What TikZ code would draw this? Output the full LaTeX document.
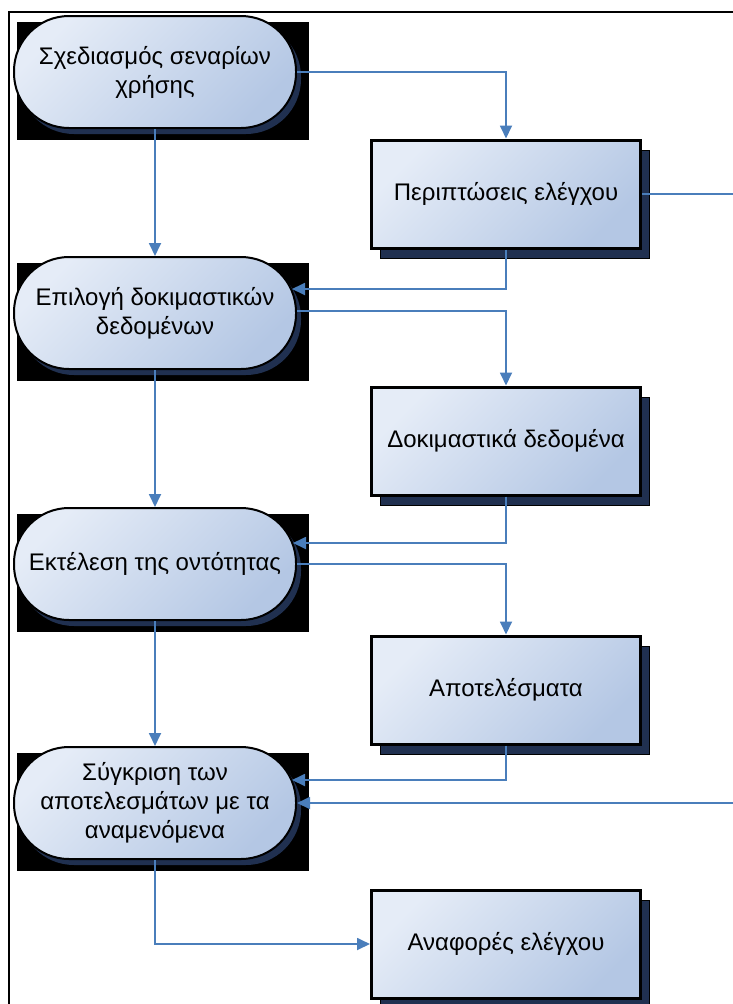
\documentclass[tikz,border=0pt]{standalone}
\usepackage{fontspec}
\setmainfont{Liberation Sans}
\usetikzlibrary{shadows,calc,arrows.meta}
\pgfdeclarelayer{bg}
\pgfsetlayers{bg,main}
\definecolor{lineblue}{RGB}{74,126,187}
\definecolor{fillA}{RGB}{229,236,247}
\definecolor{fillB}{RGB}{180,199,228}
\definecolor{shadowblue}{RGB}{32,48,80}
\begin{document}
\begin{tikzpicture}[x=1pt,y=-1pt,
 every node/.style={font=\fontsize{24}{29}\selectfont, align=center, inner sep=0pt},
 term/.style={draw=black, line width=2pt, rounded corners=55pt,
   minimum width=282pt, minimum height=112pt,
   top color=fillA, bottom color=fillB, shading angle=45,
   drop shadow={shadow xshift=5pt, shadow yshift=-6pt, fill=shadowblue, opacity=1}},
 datbox/.style={draw=black, line width=3pt,
   minimum width=269pt, minimum height=108pt,
   top color=fillA, bottom color=fillB, shading angle=45,
   drop shadow={shadow xshift=9pt, shadow yshift=-10pt, fill=shadowblue, draw=black, line width=1pt, opacity=1}},
 conn/.style={draw=lineblue, line width=1.8pt},
 arr/.style={conn, -{Triangle[length=13pt,width=12pt]}}
]
\useasboundingbox (0,0) rectangle (733,1004);
\draw[line width=1.3pt] (9,1012) -- (9,12) -- (745,12);

\node[term] (T1) at (155,72) {Σχεδιασμός σεναρίων\\χρήσης};
\node[term] (T2) at (155,313) {Επιλογή δοκιμαστικών\\δεδομένων};
\node[term] (T3) at (155,564) {Εκτέλεση της οντότητας};
\node[term] (T4) at (155,803) {Σύγκριση των\\αποτελεσμάτων με τα\\αναμενόμενα};

\node[datbox] (B1) at (506,194) {Περιπτώσεις ελέγχου};
\node[datbox] (B2) at (506,441) {Δοκιμαστικά δεδομένα};
\node[datbox] (B3) at (506,690) {Αποτελέσματα};
\node[datbox] (B4) at (506,944) {Αναφορές ελέγχου};

\begin{pgfonlayer}{bg}
 \foreach \t in {T1,T2,T3,T4}
  \fill[black] ($(\t.north west)+(4,7)$) rectangle ($(\t.south east)+(12,11)$);
\end{pgfonlayer}

\coordinate (R) at (760,0);

\draw[arr] (T1.east) -| (B1.north);
\draw[arr] (T1.south) -- (T2.north);
\draw[arr] (B1.south) |- ($(T2.east)+(-5,-24)$);
\draw[arr] ($(T2.east)+(0,-2)$) -| (B2.north);
\draw[arr] (T2.south) -- (T3.north);
\draw[arr] (B2.south) |- ($(T3.east)+(-4,-21)$);
\draw[arr] (T3.east) -| (B3.north);
\draw[arr] (T3.south) -- (T4.north);
\draw[arr] (B3.south) |- ($(T4.east)+(-5,-23)$);
\draw[arr] (B1.east) -- (B1.east -| R) -- (R |- T4.east) -- (T4.east);
\draw[arr] (T4.south) |- (B4.west);
\end{tikzpicture}
\end{document}
